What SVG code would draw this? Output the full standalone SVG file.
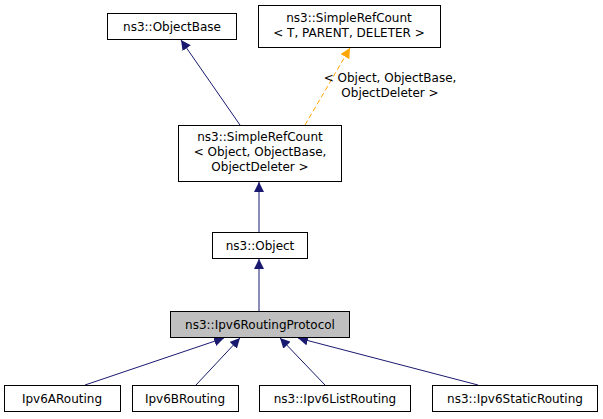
<svg xmlns="http://www.w3.org/2000/svg" width="603" height="419" viewBox="0 0 603 419">
<style>
.n rect{fill:#fff;stroke:#000;stroke-width:1}
text{font-family:"DejaVu Sans",sans-serif;font-size:12px;text-anchor:middle;fill:#000}
.e{stroke:#191970;stroke-width:1;fill:none}
.d{stroke:#ffa500;stroke-width:1;fill:none;stroke-dasharray:5,3}
</style>
<defs>
<marker id="a" viewBox="0 0 10 10" refX="10" refY="5" markerWidth="10" markerHeight="10" markerUnits="userSpaceOnUse" orient="auto"><path d="M0,0L10,5L0,10z" fill="#191970"/></marker>
<marker id="o" viewBox="0 0 10 10" refX="10" refY="5" markerWidth="10" markerHeight="10" markerUnits="userSpaceOnUse" orient="auto"><path d="M0,0L10,5L0,10z" fill="#ffa500"/></marker>
</defs>
<rect width="603" height="419" fill="#fff"/>
<g id="edges">
<path class="e" d="M240,125L181,40" marker-end="url(#a)"/>
<path class="d" d="M305,125L350,48" marker-end="url(#o)"/>
<text x="390" y="82">&lt; Object, ObjectBase,</text>
<text x="390" y="97">ObjectDeleter &gt;</text>
<path class="e" d="M259,232L259,182" marker-end="url(#a)"/>
<path class="e" d="M259,311L259,259" marker-end="url(#a)"/>
<path class="e" d="M85,385L224,338" marker-end="url(#a)"/>
<path class="e" d="M196,385L240,338" marker-end="url(#a)"/>
<path class="e" d="M325,385L280,338" marker-end="url(#a)"/>
<path class="e" d="M478,385L298,338" marker-end="url(#a)"/>
</g>
<g id="ObjectBase" class="n"><rect x="107.5" y="13.5" width="129" height="26"/><text x="172" y="31">ns3::ObjectBase</text></g>
<g id="SimpleRefCountT" class="n"><rect x="258.5" y="5.5" width="182" height="42"/><text x="349" y="22">ns3::SimpleRefCount</text><text x="349" y="37">&lt; T, PARENT, DELETER &gt;</text></g>
<g id="SimpleRefCountObj" class="n"><rect x="178.5" y="125.5" width="163" height="56"/><text x="260" y="141">ns3::SimpleRefCount</text><text x="260" y="156">&lt; Object, ObjectBase,</text><text x="260" y="171">ObjectDeleter &gt;</text></g>
<g id="Object" class="n"><rect x="212.5" y="232.5" width="95" height="26"/><text x="260" y="250">ns3::Object</text></g>
<g id="Ipv6RoutingProtocol" class="n"><rect x="170.5" y="311.5" width="179" height="26" style="fill:#bfbfbf"/><text x="260" y="329">ns3::Ipv6RoutingProtocol</text></g>
<g id="Ipv6ARouting" class="n"><rect x="4.5" y="385.5" width="116" height="26"/><text x="62" y="403">Ipv6ARouting</text></g>
<g id="Ipv6BRouting" class="n"><rect x="132.5" y="385.5" width="106" height="26"/><text x="185" y="403">Ipv6BRouting</text></g>
<g id="Ipv6ListRouting" class="n"><rect x="259.5" y="385.5" width="151" height="26"/><text x="335" y="403">ns3::Ipv6ListRouting</text></g>
<g id="Ipv6StaticRouting" class="n"><rect x="432.5" y="385.5" width="165" height="26"/><text x="515" y="403">ns3::Ipv6StaticRouting</text></g>
</svg>
